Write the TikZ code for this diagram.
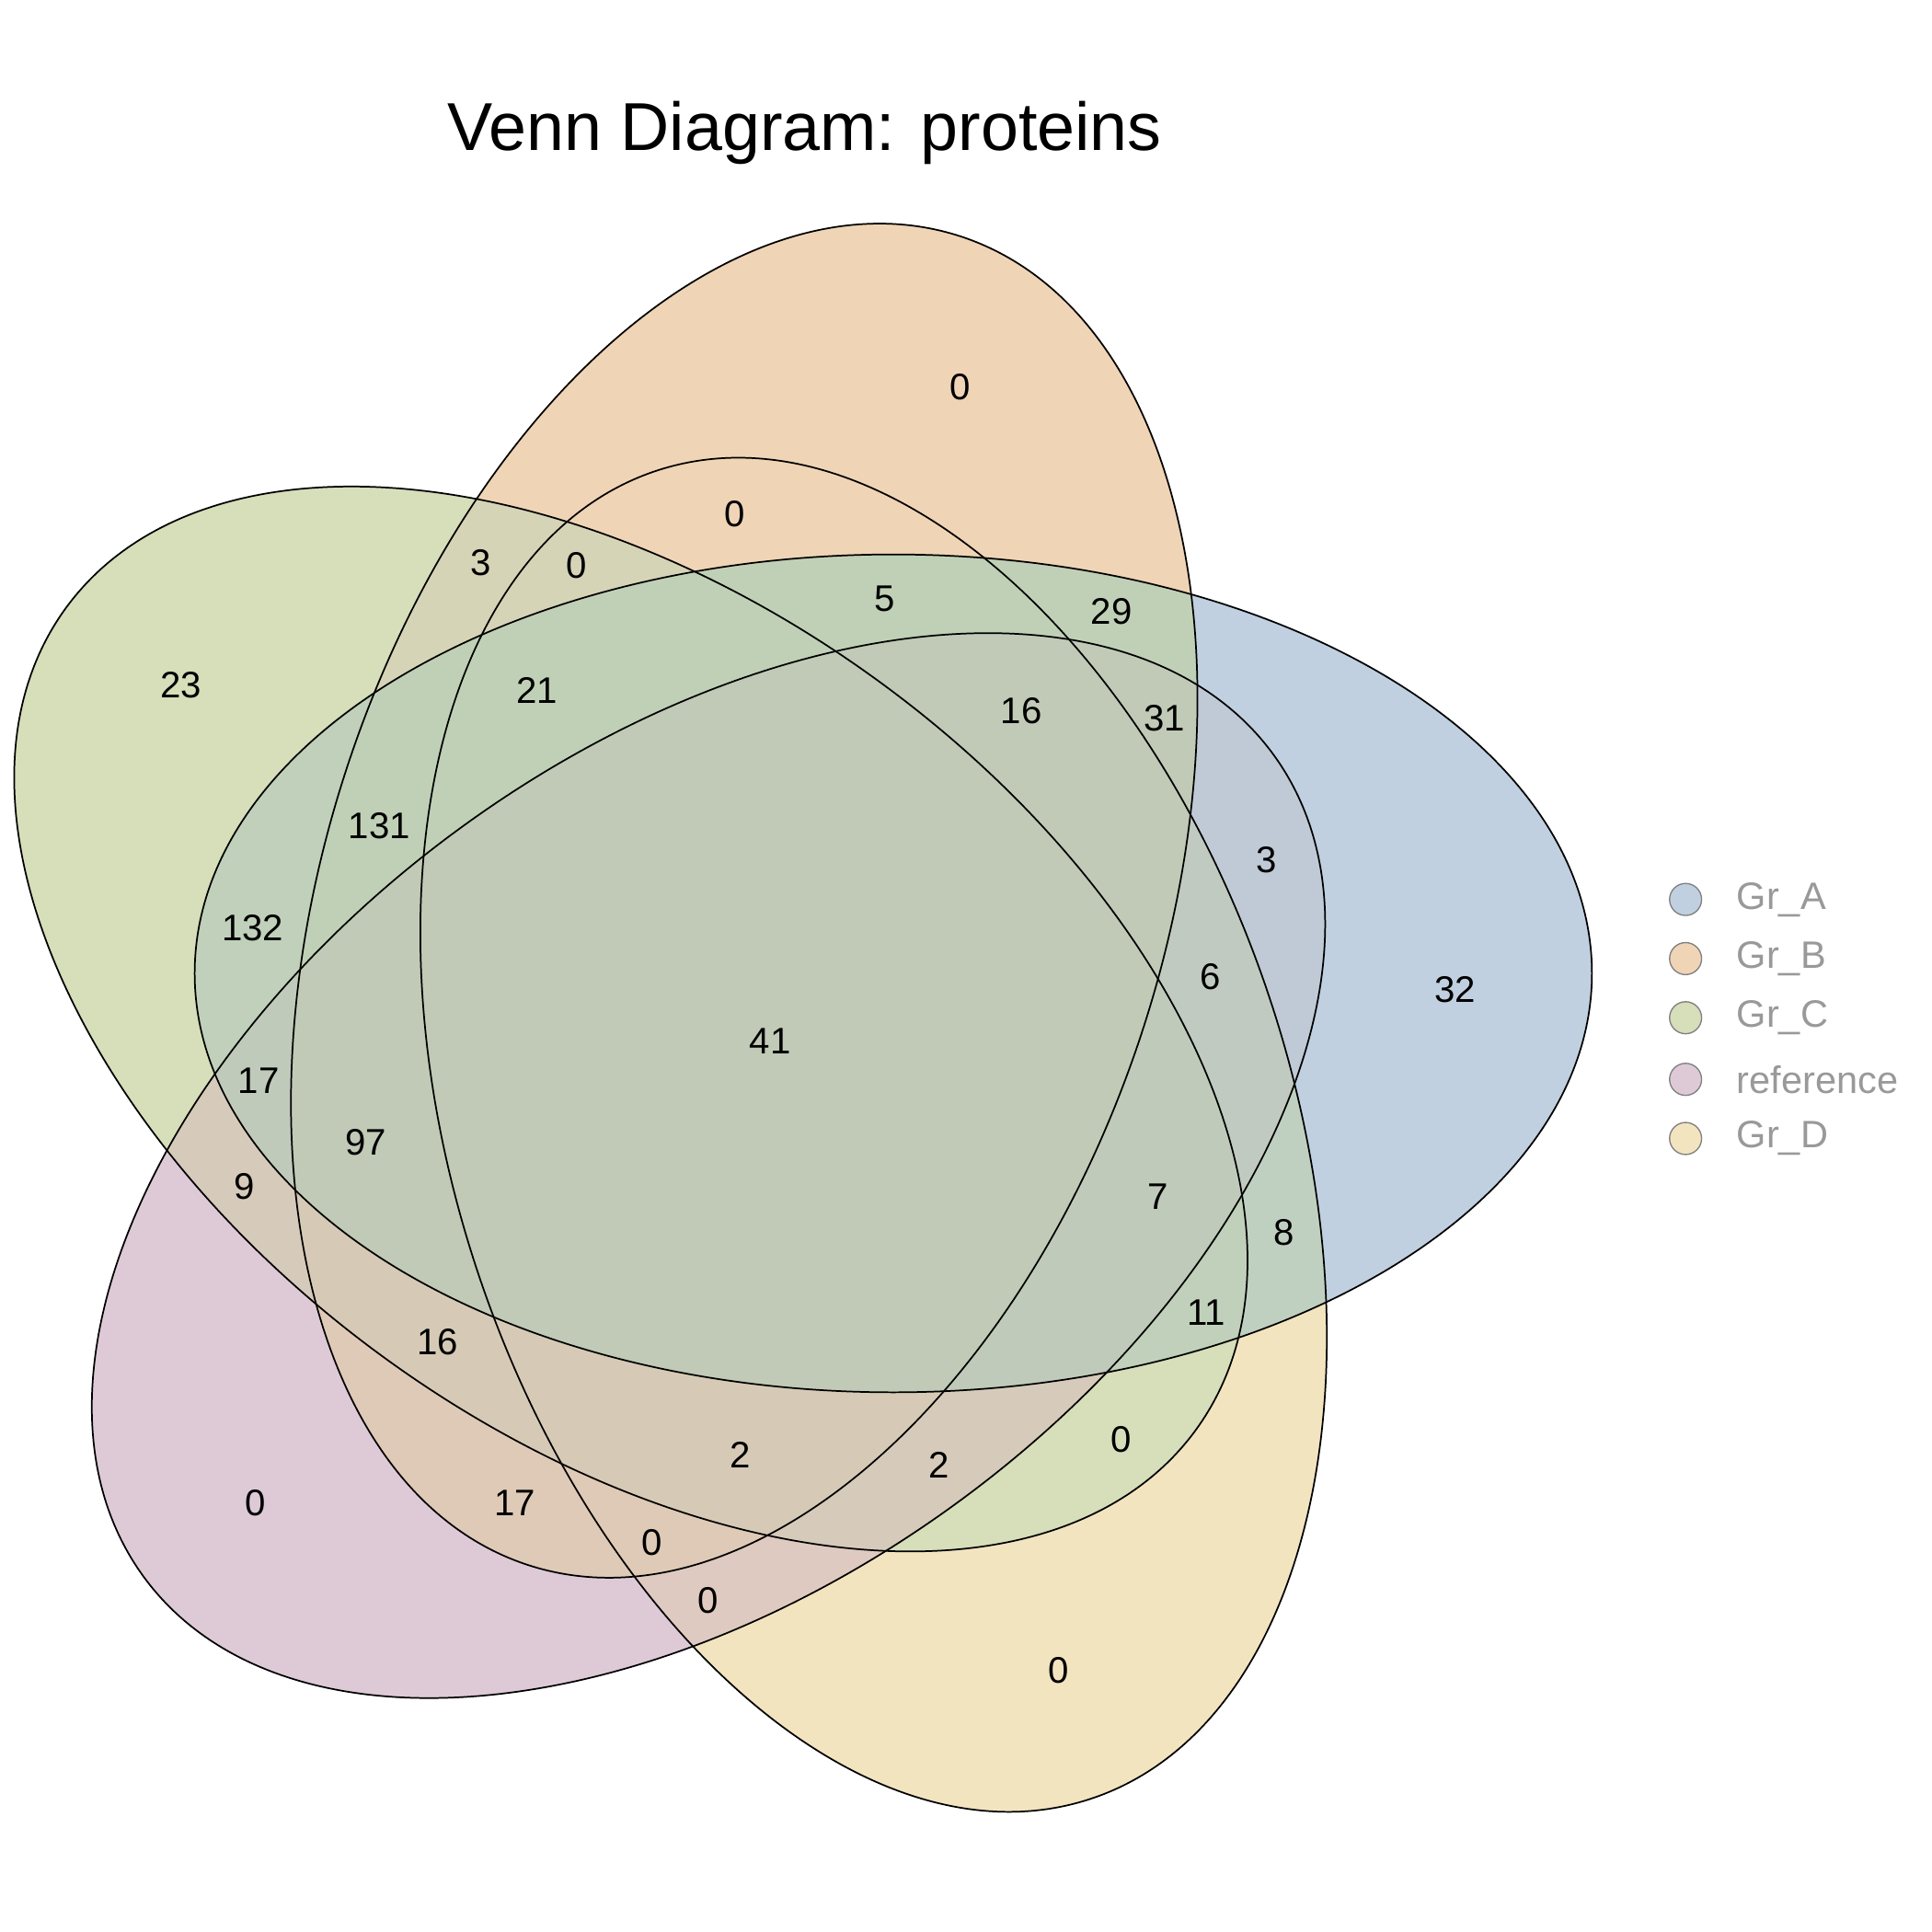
\documentclass[tikz,border=0pt]{standalone}
\usepackage{fontspec}
\setmainfont{Liberation Sans}
\begin{document}
\begin{tikzpicture}[x=1pt,y=1pt,
  num/.style={font=\fontsize{30}{30}\selectfont,text=black},
  leg/.style={circle,minimum size=26pt,inner sep=0pt,draw=gray,line width=1pt},
  legt/.style={font=\fontsize{31}{31}\selectfont,text=gray!80,anchor=west}]
\definecolor{cA}{RGB}{192,208,224}
\definecolor{cB}{RGB}{240,212,182}
\definecolor{cC}{RGB}{214,222,186}
\definecolor{cR}{RGB}{222,202,214}
\definecolor{cD}{RGB}{243,228,192}
\useasboundingbox (0,0) rectangle (1568,1568);
\fill[white] (0,0) rectangle (1568,1568);
\coordinate (cA0) at (725,778);
\coordinate (cR0) at (575,622);
\coordinate (cB0) at (604,837);
\coordinate (cD0) at (709,647);
\coordinate (cC0) at (512,741);
\begin{scope}[blend mode=darken]
\fill[cA] (cA0) ellipse [x radius=567,y radius=340];
\fill[cR,rotate around={36:(cR0)}] (cR0) ellipse [x radius=567,y radius=340];
\fill[cB,rotate around={72:(cB0)}] (cB0) ellipse [x radius=567,y radius=340];
\fill[cD,rotate around={108:(cD0)}] (cD0) ellipse [x radius=567,y radius=340];
\fill[cC,rotate around={144:(cC0)}] (cC0) ellipse [x radius=567,y radius=340];
\end{scope}
\draw[line width=1.3pt] (cA0) ellipse [x radius=567,y radius=340];
\draw[line width=1.3pt,rotate around={36:(cR0)}] (cR0) ellipse [x radius=567,y radius=340];
\draw[line width=1.3pt,rotate around={72:(cB0)}] (cB0) ellipse [x radius=567,y radius=340];
\draw[line width=1.3pt,rotate around={108:(cD0)}] (cD0) ellipse [x radius=567,y radius=340];
\draw[line width=1.3pt,rotate around={144:(cC0)}] (cC0) ellipse [x radius=567,y radius=340];
\node[font=\fontsize{55}{55}\selectfont] (title) at (653,1460) {Venn Diagram: proteins};
\foreach \x/\y/\t [count=\i] in {779/1254/0,596/1151/0,390/1111/3,468/1109/0,718/1082/5,902/1072/29,147/1012/23,436/1008/21,829/991/16,945/985/31,308/898/131,1028/870/3,205/815/132,982/775/6,1181/765/32,625/723/41,210/691/17,297/641/97,198/605/9,940/597/7,1042/568/8,979/503/11,355/479/16,910/400/0,601/387/2,762/379/2,207/348/0,418/348/17,529/316/0,575/269/0,859/212/0}
  \node[num] (n\i) at (\x,\y) {\t};
\node[leg,fill=cA] (lA) at (1368,838) {}; \node[legt] (tA) at (1406,838) {Gr\_A};
\node[leg,fill=cB] (lB) at (1368,790) {}; \node[legt] (tB) at (1406,790) {Gr\_B};
\node[leg,fill=cC] (lC) at (1368,742) {}; \node[legt] (tC) at (1406,742) {Gr\_C};
\node[leg,fill=cR] (lR) at (1368,692) {}; \node[legt] (tR) at (1406,692) {reference};
\node[leg,fill=cD] (lD) at (1368,644) {}; \node[legt] (tD) at (1406,644) {Gr\_D};
\end{tikzpicture}
\end{document}
